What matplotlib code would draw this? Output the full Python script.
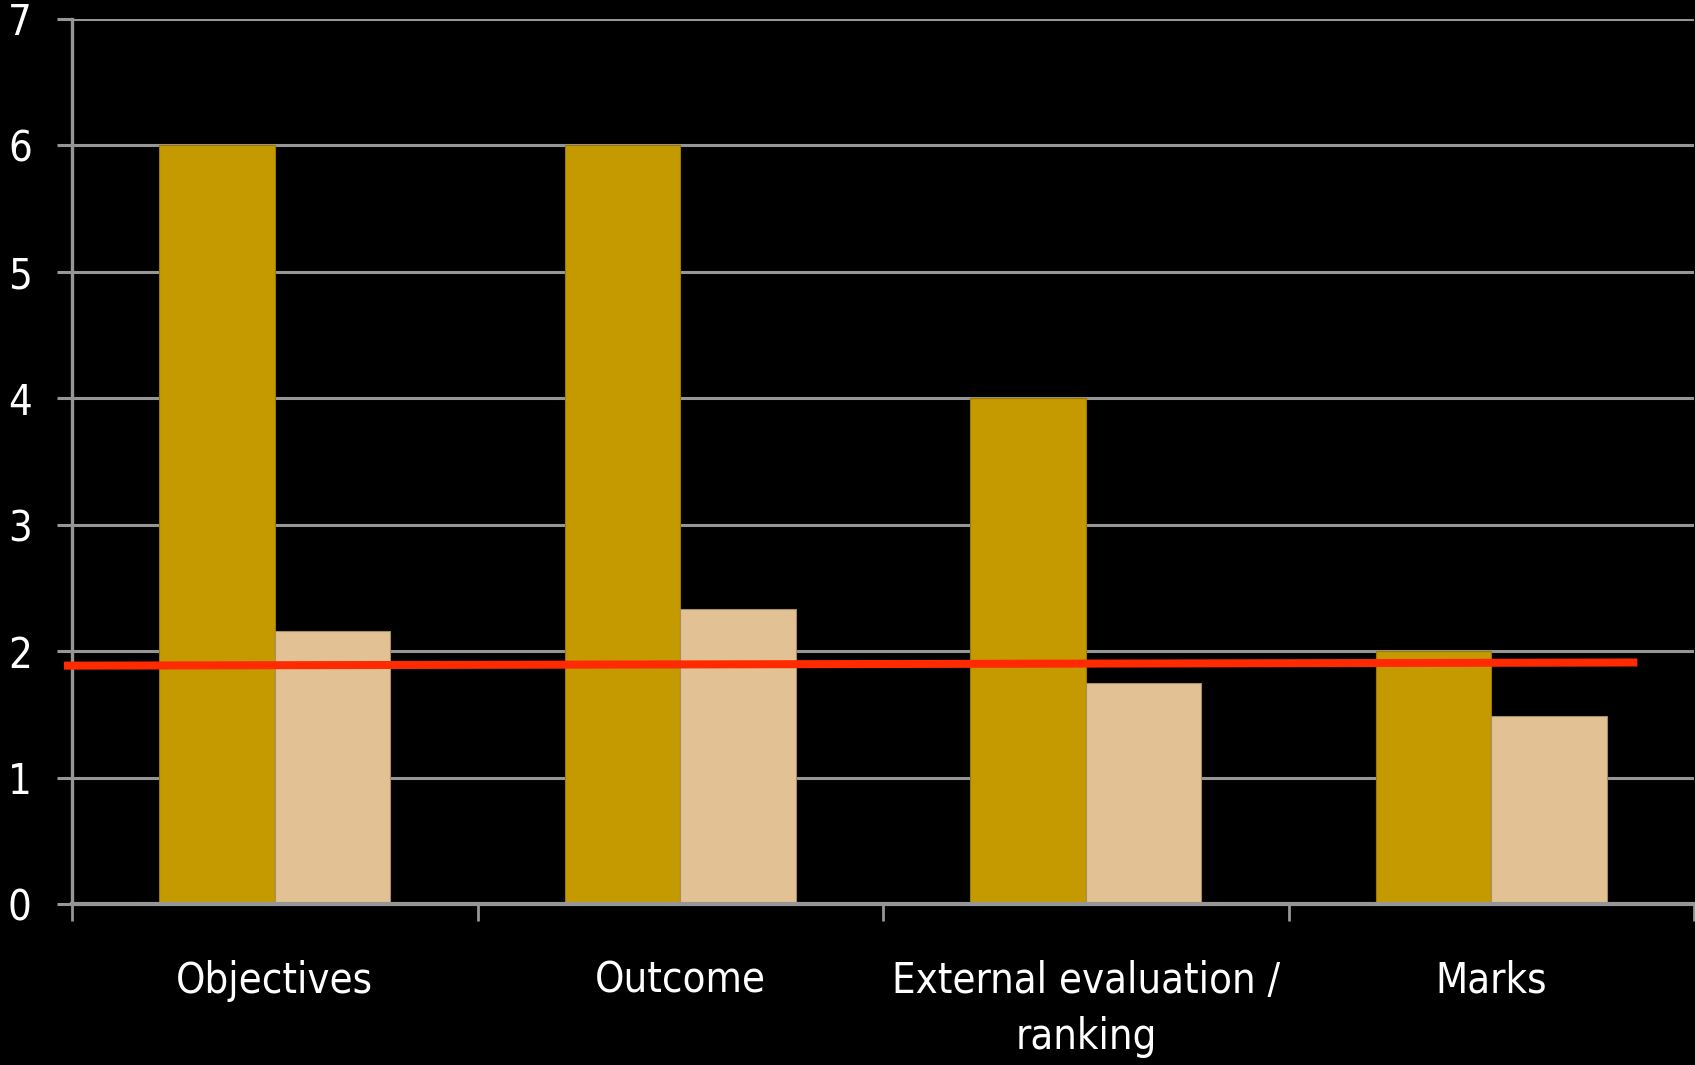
import numpy as np
import matplotlib.pyplot as plt

# chart data
categories = ["Objectives", "Outcome", "External evaluation /\nranking", "Marks"]
dark_values = [6, 6, 4, 2]
light_values = [2.16, 2.33, 1.75, 1.49]
# red reference line (x in category units, y in value units)
red_x = [-0.52, 3.36]
red_y = [1.885, 1.91]
y_ticks = [0, 1, 2, 3, 4, 5, 6, 7]

plt.rcParams['font.family'] = ['DejaVu Sans']
plt.rcParams['font.stretch'] = 'condensed'

fig = plt.figure(figsize=(16.95, 10.65), dpi=100, facecolor='black')
ax = fig.add_axes([0.0425, 0.1512, 0.957, 0.831])
ax.set_facecolor('black')

grid_col = '#969696'
x = np.arange(len(categories))
w = 0.285

ax.bar(x - w / 2, dark_values, w, color='#C49A00', edgecolor='#9C7A00', linewidth=0.8, zorder=3)
ax.bar(x + w / 2, light_values, w, color='#E2C295', edgecolor='#A88C66', linewidth=0.8, zorder=3)
ax.plot(red_x, red_y, color='#FF2A00', linewidth=5.8, solid_capstyle='butt', zorder=4, clip_on=False)

ax.set_xlim(-0.5, len(categories) - 0.5)
ax.set_ylim(0, 7)
ax.set_yticks(y_ticks)
ax.yaxis.grid(True, color=grid_col, linewidth=2.2, zorder=1)
ax.set_axisbelow(True)

# category boundaries as major ticks, labels on minor ticks at centers
ax.set_xticks(np.arange(len(categories) + 1) - 0.5)
ax.set_xticklabels([])
ax.set_xticks(x, minor=True)
ax.set_xticklabels(categories, minor=True, color='white', fontsize=30, linespacing=1.45, va='top')
ax.tick_params(axis='x', which='major', length=12, width=2, color=grid_col, direction='out')
ax.tick_params(axis='x', which='minor', length=0, pad=40)
ax.tick_params(axis='y', length=11, width=2.2, color=grid_col, labelcolor='white', labelsize=30, pad=18)

for s in ['top', 'right']:
    ax.spines[s].set_visible(False)
ax.spines['left'].set_color(grid_col)
ax.spines['left'].set_linewidth(2.4)
ax.spines['bottom'].set_color(grid_col)
ax.spines['bottom'].set_linewidth(3)
ax.spines['bottom'].set_zorder(5)

fig.savefig('out.png', dpi=100, facecolor='black')
